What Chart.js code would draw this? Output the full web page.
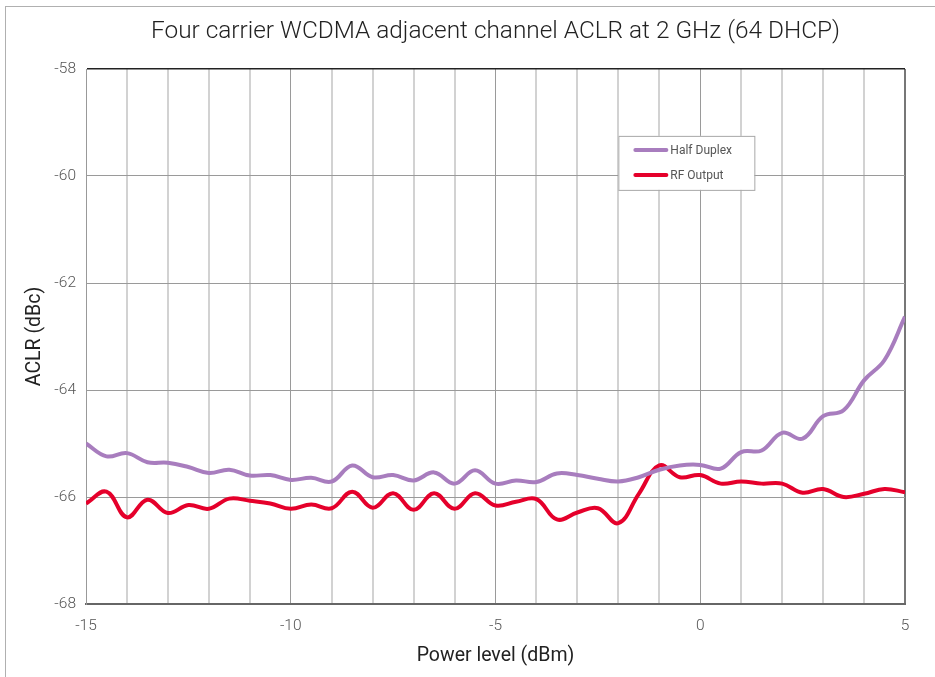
<!DOCTYPE html>
<html>
<head>
<meta charset="utf-8">
<script src="https://cdn.jsdelivr.net/npm/chart.js@4.4.1/dist/chart.umd.min.js"></script>
<style>
  html, body { margin: 0; padding: 0; background: #fff; }
  #wrap { position: relative; width: 935px; height: 677px; }
  #frame { position: absolute; left: 5px; top: 6px; right: -5px; bottom: -5px;
           border-left: 1px solid #b0b0b0; border-top: 1px solid #b0b0b0; }
  canvas { position: absolute; left: 0; top: 0; }
</style>
</head>
<body>
<div id="wrap">
  <div id="frame"></div>
  <canvas id="chart" width="935" height="677"></canvas>
</div>
<script>
/* datos */
const powerLevels = [
  -15, -14.5, -14, -13.5, -13, -12.5, -12, -11.5, -11, -10.5,
  -10, -9.5, -9, -8.5, -8, -7.5, -7, -6.5, -6, -5.5,
  -5, -4.5, -4, -3.5, -3, -2.5, -2, -1.5, -1, -0.5,
  0, 0.5, 1, 1.5, 2, 2.5, 3, 3.5, 4, 4.5, 5,
];
const halfDuplex = [
  -65.0, -65.24, -65.18, -65.35, -65.36, -65.44, -65.55, -65.49, -65.6, -65.59,
  -65.68, -65.64, -65.71, -65.41, -65.63, -65.59, -65.69, -65.54, -65.75, -65.5,
  -65.75, -65.69, -65.72, -65.56, -65.59, -65.66, -65.71, -65.63, -65.49, -65.41,
  -65.4, -65.47, -65.16, -65.13, -64.8, -64.91, -64.49, -64.38, -63.82, -63.44, -62.63,
];
const rfOutput = [
  -66.12, -65.9, -66.38, -66.05, -66.3, -66.15, -66.22, -66.03, -66.07, -66.12,
  -66.22, -66.14, -66.21, -65.9, -66.2, -65.93, -66.24, -65.93, -66.22, -65.93,
  -66.16, -66.09, -66.04, -66.42, -66.29, -66.21, -66.49, -65.94, -65.41, -65.63,
  -65.59, -65.75, -65.71, -65.75, -65.75, -65.92, -65.85, -66.0, -65.94, -65.85, -65.91,
];
const seriesNames = ["Half Duplex", "RF Output"];
const seriesColors = ["#a87dbe", "#e5002b"];
const xTickLabels = [-15, -10, -5, 0, 5];
const chartTitle = "Four carrier WCDMA adjacent channel ACLR at 2 GHz (64 DHCP)";

const fontFamily = "Roboto, 'Liberation Sans', sans-serif";

/* titulo centrado sobre el area del grafico */
const areaTitle = {
  id: "areaTitle",
  afterDraw(chart) {
    const { ctx, chartArea: a } = chart;
    ctx.save();
    ctx.font = "300 24.4px " + fontFamily;
    ctx.fillStyle = "#222";
    ctx.textAlign = "center";
    ctx.textBaseline = "middle";
    ctx.fillText(chartTitle, (a.left + a.right) / 2, 32);
    ctx.restore();
  },
};

/* leyenda dibujada dentro del area del grafico */
const boxLegend = {
  id: "boxLegend",
  afterDatasetsDraw(chart) {
    const { ctx, chartArea: a } = chart;
    const x = a.left + (a.right - a.left) * 0.65;
    const y = a.top + (a.bottom - a.top) * 0.125;
    const w = 136, h = 54;
    ctx.save();
    ctx.fillStyle = "#fff";
    ctx.fillRect(x, y, w, h);
    ctx.strokeStyle = "#a8a8a8";
    ctx.lineWidth = 1;
    ctx.strokeRect(x + 0.5, y + 0.5, w, h);
    ctx.font = "12px " + fontFamily;
    ctx.textBaseline = "middle";
    chart.data.datasets.forEach((ds, i) => {
      const ly = y + 14 + i * 25;
      ctx.strokeStyle = ds.borderColor;
      ctx.lineWidth = 4;
      ctx.lineCap = "round";
      ctx.beginPath();
      ctx.moveTo(x + 17, ly);
      ctx.lineTo(x + 48, ly);
      ctx.stroke();
      ctx.fillStyle = "#555";
      ctx.fillText(ds.label, x + 52, ly + 1);
    });
    ctx.restore();
  },
};

const ctx = document.getElementById("chart").getContext("2d");

const data = {
  datasets: [
    {
      label: seriesNames[0],
      data: powerLevels.map((p, i) => ({ x: p, y: halfDuplex[i] })),
      borderColor: seriesColors[0],
      borderWidth: 4,
    },
    {
      label: seriesNames[1],
      data: powerLevels.map((p, i) => ({ x: p, y: rfOutput[i] })),
      borderColor: seriesColors[1],
      borderWidth: 4,
    },
  ],
};

const config = {
  type: "line",
  data: data,
  plugins: [boxLegend, areaTitle],
  options: {
    responsive: false,
    animation: false,
    layout: { padding: { left: 0, right: 30, top: 69, bottom: 0 } },
    elements: {
      point: { radius: 0 },
      line: { tension: 0.4, fill: false },
    },
    plugins: {
      legend: { display: false },
      tooltip: { enabled: false },
      title: { display: false },
    },
    scales: {
      x: {
        type: "linear",
        min: -15,
        max: 5,
        afterFit: (s) => { s.height = 73; },
        border: { color: "#666", width: 2 },
        grid: {
          drawTicks: false,
          color: (c) => {
            const v = c.tick.value;
            if (v === 5) return "#777";
            return xTickLabels.includes(v) ? "#9a9a9a" : "#d2d2d2";
          },
          lineWidth: (c) => {
            const v = c.tick.value;
            if (v === 5) return 2;
            return xTickLabels.includes(v) ? 1 : 2;
          },
        },
        ticks: {
          stepSize: 1,
          autoSkip: false,
          maxRotation: 0,
          padding: 13,
          color: "#555",
          font: { family: fontFamily, size: 15.5, weight: "300" },
          callback: (v) => (xTickLabels.includes(v) ? String(v) : ""),
        },
        title: {
          display: true,
          text: "Power level (dBm)",
          color: "#222",
          font: { family: fontFamily, size: 19.5 },
          padding: { top: 6, bottom: 9 },
        },
      },
      y: {
        min: -68,
        max: -58,
        afterFit: (s) => { s.width = 86; },
        border: { color: "#999", width: 1 },
        grid: {
          drawTicks: false,
          color: (c) => (c.tick.value === -58 ? "#222" : "#9a9a9a"),
          lineWidth: (c) => (c.tick.value === -58 ? 1.5 : 1),
        },
        ticks: {
          stepSize: 2,
          padding: 10,
          color: "#555",
          font: { family: fontFamily, size: 15.5, weight: "300" },
        },
        title: {
          display: true,
          text: "ACLR (dBc)",
          color: "#222",
          font: { family: fontFamily, size: 19.5 },
          padding: { top: 23, bottom: 4 },
        },
      },
    },
  },
};

new Chart(ctx, config);
</script>
</body>
</html>
